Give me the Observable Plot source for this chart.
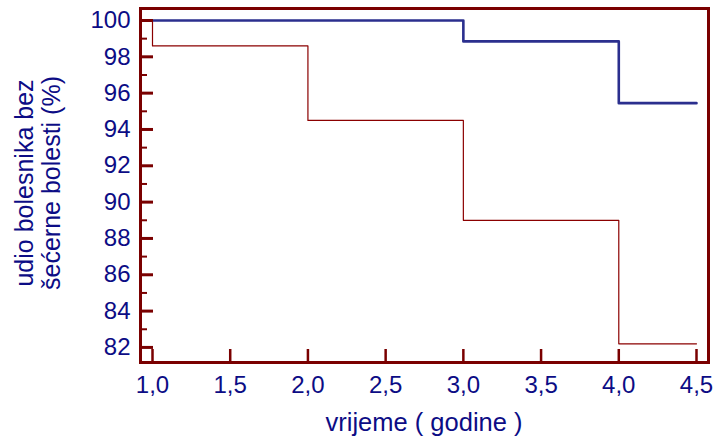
<!DOCTYPE html>
<html><head><meta charset="utf-8">
<script src="https://cdn.jsdelivr.net/npm/d3@7"></script>
<script src="https://cdn.jsdelivr.net/npm/@observablehq/plot@0.6"></script>
<style>body{margin:0;background:#fff;} svg{font-family:"Liberation Sans",Arial,sans-serif;}</style>
</head><body><div id="chart"></div>
<script>
const blueTimes = [1, 3, 4, 4.5];
const blueValues = [100, 98.85, 95.45, 95.45];
const redTimes = [1, 1, 2, 3, 4, 4.5];
const redValues = [100, 98.6, 94.5, 89.0, 82.2, 82.2];
const xTicks = [1, 1.5, 2, 2.5, 3, 3.5, 4, 4.5];
const yMajor = [82, 84, 86, 88, 90, 92, 94, 96, 98, 100];
const yMinor = [83, 85, 87, 89, 91, 93, 95, 97, 99];
const yTitle = ["udio bolesnika bez", "šećerne bolesti (%)"];
const xTitle = "vrijeme ( godine )";

const W = 715, H = 439;
const mL = 140, mR = 7, mT = 8, mB = 77;
const pw = W - mL - mR, ph = H - mT - mB;
const navy = "#0c0c85", maroon = "#7a0000";

const blue = blueTimes.map((t, i) => ({t, v: blueValues[i]}));
const red = redTimes.map((t, i) => ({t, v: redValues[i]}));

const fmt = d => d.toFixed(1).replace(".", ",");

const plot = Plot.plot({
  width: W, height: H,
  marginLeft: mL, marginRight: mR, marginTop: mT, marginBottom: mB,
  style: {fontFamily: "Liberation Sans, Arial, sans-serif", background: "#fff"},
  x: {domain: [0.9228, 4.5772]},
  y: {domain: [81.17, 100.66]},
  marks: [
    Plot.line(red, {x: "t", y: "v", curve: "step-after", stroke: "#8b0000", strokeWidth: 1.2}),
    Plot.line(blue, {x: "t", y: "v", curve: "step-after", stroke: "#2b2f8e", strokeWidth: 2.6}),
    Plot.tickY(yMajor, {y: d => d, insetRight: pw - 13, stroke: maroon, strokeWidth: 3}),
    Plot.tickY(yMinor, {y: d => d, insetRight: pw - 7, stroke: maroon, strokeWidth: 2}),
    Plot.tickX(xTicks, {x: d => d, insetTop: ph - 13, stroke: maroon, strokeWidth: 2.5}),
    Plot.axisY(yMajor, {tickSize: 0, tickPadding: 10, fontSize: 24, color: navy, label: null}),
    Plot.axisX(xTicks, {tickSize: 0, tickPadding: 13, fontSize: 24, color: navy, label: null, tickFormat: fmt}),
    Plot.frame({stroke: maroon, strokeWidth: 3})
  ]
});

const svg = d3.select(plot);
svg.selectAll("g[aria-label='y-axis tick label'] text, g[aria-label='x-axis tick label'] text").attr("fill", navy);
svg.append("text")
  .attr("transform", `translate(424,431)`)
  .attr("text-anchor", "middle").attr("font-size", 25.5).attr("fill", navy)
  .text(xTitle);
const yt = svg.append("text")
  .attr("transform", `translate(33,183) rotate(-90)`)
  .attr("text-anchor", "middle").attr("font-size", 25).attr("fill", navy);
yt.append("tspan").attr("x", 0).attr("dy", 0).text(yTitle[0]);
yt.append("tspan").attr("x", 0).attr("dy", 27).text(yTitle[1]);

document.getElementById("chart").appendChild(plot);
</script>
</body></html>
